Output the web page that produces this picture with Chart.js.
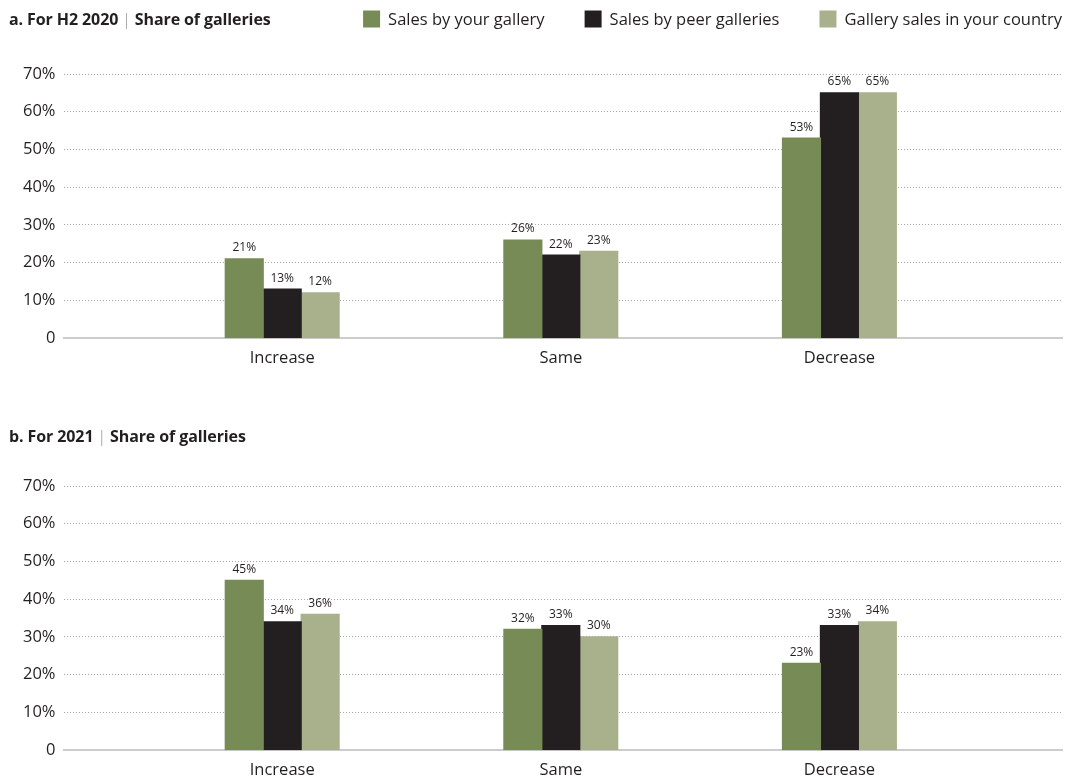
<!DOCTYPE html>
<html>
<head>
<meta charset="utf-8">
<script src="https://cdn.jsdelivr.net/npm/chart.js@4.4.1/dist/chart.umd.min.js"></script>
<style>
  html, body { margin: 0; padding: 0; background: #fff; }
  body { width: 1077px; height: 778px; position: relative; overflow: hidden; font-family: "Open Sans", sans-serif; color: #231f20; }
  .panel { position: absolute; left: 0; width: 1077px; }
  #pa { top: 0; height: 378px; }
  #pb { top: 412px; height: 378px; }
  .title { position: absolute; left: 9px; font-size: 16px; line-height: 22px; font-weight: 700; color: #231f20; white-space: nowrap; letter-spacing: -0.1px; }
  .title .sep { font-weight: 300; color: #888; margin: 0 4px; }
</style>
</head>
<body>
<div class="panel" id="pa"><canvas id="ca" width="1077" height="378"></canvas></div>
<div class="panel" id="pb"><canvas id="cb" width="1077" height="378"></canvas></div>
<div class="title" style="top:8px">a. For H2 2020<span class="sep">|</span>Share of galleries</div>
<div class="title" style="top:425px">b. For 2021<span class="sep">|</span>Share of galleries</div>
<script>
const categories = ["Increase", "Same", "Decrease"];
const seriesNames = ["Sales by your gallery", "Sales by peer galleries", "Gallery sales in your country"];
const seriesColors = ["#768b55", "#231f20", "#a8b18c"];

// Panel a: For H2 2020
const h2020Yours = [21, 26, 53];
const h2020Peers = [13, 22, 65];
const h2020Country = [12, 23, 65];

// Panel b: For 2021
const y2021Yours = [45, 32, 23];
const y2021Peers = [34, 33, 33];
const y2021Country = [36, 30, 34];

const yTicks = [0, 10, 20, 30, 40, 50, 60, 70];
const FONT = "'Open Sans', sans-serif";

const valueLabels = {
  id: 'valueLabels',
  afterDatasetsDraw(chart) {
    const ctx = chart.ctx;
    ctx.save();
    ctx.font = "12px " + FONT;
    ctx.fillStyle = "#231f20";
    ctx.textAlign = "center";
    ctx.textBaseline = "bottom";
    chart.data.datasets.forEach((ds, di) => {
      const meta = chart.getDatasetMeta(di);
      meta.data.forEach((el, i) => {
        ctx.fillText(ds.data[i].y + "%", el.x, el.y - 5);
      });
    });
    ctx.restore();
  }
};

// Legend drawn on one line with the panel title, right-aligned to the plot's right edge
const topLegend = {
  id: 'topLegend',
  afterDraw(chart, args, opts) {
    if (!opts.show) return;
    const ctx = chart.ctx;
    ctx.save();
    ctx.font = "16.5px " + FONT;
    ctx.textBaseline = "middle";
    ctx.textAlign = "left";
    const box = 17, textGap = 8, itemGap = 40, cy = 19;
    const items = chart.data.datasets.map(ds => ({ label: ds.label, color: ds.backgroundColor, w: ctx.measureText(ds.label).width }));
    const total = items.reduce((s, it) => s + box + textGap + it.w, 0) + itemGap * (items.length - 1);
    let x = chart.chartArea.right - total;
    items.forEach(it => {
      ctx.fillStyle = it.color;
      ctx.fillRect(x, cy - box / 2, box, box);
      x += box + textGap;
      ctx.fillStyle = "#231f20";
      ctx.fillText(it.label, x, cy + 1);
      x += it.w + itemGap;
    });
    ctx.restore();
  }
};

function makeDatasets(seriesValues) {
  return seriesValues.map((vals, si) => ({
    label: seriesNames[si],
    data: categories.map((c, i) => ({ x: i, y: vals[i] })),
    backgroundColor: seriesColors[si],
    borderWidth: 0,
    inflateAmount: 0.6,
    categoryPercentage: 0.4086,
    barPercentage: 1
  }));
}

function makeChart(canvasId, seriesValues, showLegend) {
  return new Chart(document.getElementById(canvasId), {
    type: 'bar',
    data: { datasets: makeDatasets(seriesValues) },
    plugins: [valueLabels, topLegend],
    options: {
      responsive: false,
      animation: false,
      devicePixelRatio: 1,
      layout: { padding: { top: 74, right: 15, left: 15, bottom: 0 } },
      plugins: {
        tooltip: { enabled: false },
        legend: { display: false },
        topLegend: { show: showLegend }
      },
      scales: {
        x: {
          type: 'linear',
          min: -0.785,
          max: 2.799,
          offset: false,
          grid: { display: false, drawTicks: false },
          border: { display: true, color: "#cccccc", width: 2 },
          ticks: {
            stepSize: 1,
            includeBounds: false,
            padding: 10,
            maxRotation: 0,
            color: "#231f20",
            font: { family: FONT, size: 16.5 },
            callback: (v) => Number.isInteger(v) && categories[v] !== undefined ? categories[v] : ''
          }
        },
        y: {
          min: 0,
          max: 70,
          afterBuildTicks: (axis) => { axis.ticks = yTicks.map(v => ({ value: v })); },
          grid: {
            drawTicks: false,
            color: (ctx) => ctx.tick && ctx.tick.value === 0 ? 'rgba(0,0,0,0)' : '#a8a8a8',
            lineWidth: 1
          },
          border: { display: false, dash: [1, 2] },
          ticks: {
            padding: 8,
            color: "#231f20",
            font: { family: FONT, size: 16.5 },
            callback: (v) => v === 0 ? '0' : v + '%'
          }
        }
      }
    }
  });
}

makeChart('ca', [h2020Yours, h2020Peers, h2020Country], true);
makeChart('cb', [y2021Yours, y2021Peers, y2021Country], false);
</script>
</body>
</html>
